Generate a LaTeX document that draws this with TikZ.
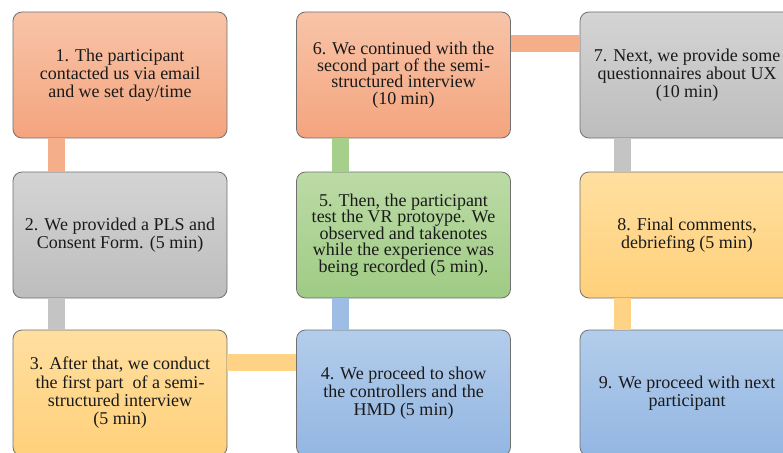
\documentclass[tikz,border=0pt]{standalone}
\usepackage{fontspec}
\setmainfont{Liberation Serif}
\usetikzlibrary{calc}
\definecolor{orT}{HTML}{F8C4A8}
\definecolor{orB}{HTML}{F4A47E}
\definecolor{grT}{HTML}{D4D4D4}
\definecolor{grB}{HTML}{BDBDBD}
\definecolor{gnT}{HTML}{BCDBA6}
\definecolor{gnB}{HTML}{9FCB84}
\definecolor{blT}{HTML}{B3CDEB}
\definecolor{blB}{HTML}{93B6E2}
\definecolor{ylT}{HTML}{FFDFA0}
\definecolor{ylB}{HTML}{FFD07A}
\definecolor{orL}{HTML}{F4AE8A}
\definecolor{grL}{HTML}{C4C4C4}
\definecolor{gnL}{HTML}{A6CF8C}
\definecolor{blL}{HTML}{9DBDE4}
\definecolor{ylL}{HTML}{FFD386}
\definecolor{edge}{HTML}{707070}
\definecolor{txt}{HTML}{1A1A1A}
\tikzset{
  stepbox/.style={draw=edge, line width=0.8pt, rounded corners=9pt,
    minimum width=214pt, minimum height=126pt, inner sep=2pt,
    align=center, text=txt,
    font=\fontsize{18pt}{18.3pt}\selectfont},
  tight/.style={font=\fontsize{18pt}{16.6pt}\selectfont},
  orbox/.style={stepbox, top color=orT, bottom color=orB},
  grbox/.style={stepbox, top color=grT, bottom color=grB},
  gnbox/.style={stepbox, top color=gnT, bottom color=gnB},
  blbox/.style={stepbox, top color=blT, bottom color=blB},
  ylbox/.style={stepbox, top color=ylT, bottom color=ylB},
  link/.style={line width=17pt, line cap=butt}
}
\begin{document}
\begin{tikzpicture}[x=1pt,y=-1pt]
\useasboundingbox (0,0) rectangle (783,452);
\clip (0,0) rectangle (783,452);
\fill[white] (0,0) rectangle (783,452);
% boxes
\node[orbox] (b1) at (120,75) {1. The participant\\contacted us via email\\and we set day/time};
\node[grbox] (b2) at (120,235) {2. We provided a PLS and\\Consent Form. (5 min)};
\node[ylbox] (b3) at (120,393) {3. After that, we conduct\\the first part \ of a semi-\\structured interview\\(5 min)};
\node[blbox] (b4) at (403.5,393) {4. We proceed to show\\the controllers and the\\HMD (5 min)};
\node[gnbox, tight] (b5) at (403.5,235) {5. Then, the participant\\test the VR protoype. We\\observed and takenotes\\while the experience was\\being recorded (5 min).};
\node[orbox, tight] (b6) at (403.5,75) {6. We continued with the\\second part of the semi-\\structured interview\\(10 min)};
\node[grbox] (b7) at (687,75) {7. Next, we provide some\\questionnaires about UX\\(10 min)};
\node[ylbox] (b8) at (687,235) {8. Final comments,\\debriefing (5 min)};
\node[blbox] (b9) at (687,393) {9. We proceed with next\\participant};
% connectors
\draw[link, orL] ($(b1.south west)+(44,0)$) -- ($(b2.north west)+(44,0)$);
\draw[link, grL] ($(b2.south west)+(44,0)$) -- ($(b3.north west)+(44,0)$);
\draw[link, ylL] ($(b3.north east)+(0,33)$) -- ($(b4.north west)+(0,33)$);
\draw[link, blL] ($(b4.north west)+(44,0)$) -- ($(b5.south west)+(44,0)$);
\draw[link, gnL] ($(b5.north west)+(44,0)$) -- ($(b6.south west)+(44,0)$);
\draw[link, orL] ($(b6.north east)+(0,32)$) -- ($(b7.north west)+(0,32)$);
\draw[link, grL] ($(b7.south west)+(43,0)$) -- ($(b8.north west)+(43,0)$);
\draw[link, ylL] ($(b8.south west)+(43,0)$) -- ($(b9.north west)+(43,0)$);
\end{tikzpicture}
\end{document}
